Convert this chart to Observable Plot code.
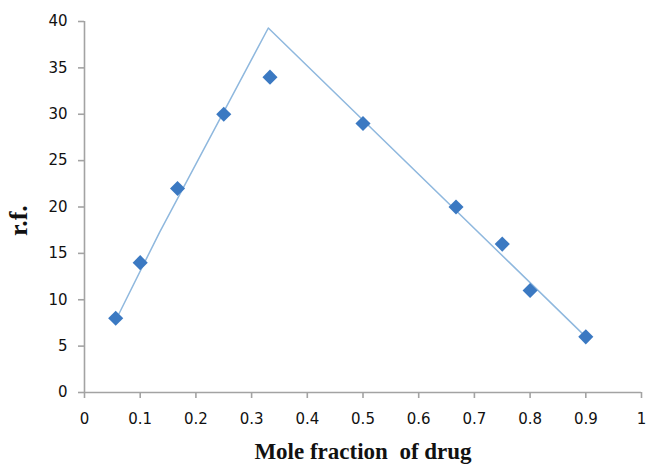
<!DOCTYPE html>
<html>
<head>
<meta charset="utf-8">
<script src="https://cdn.jsdelivr.net/npm/d3@7"></script>
<script src="https://cdn.jsdelivr.net/npm/@observablehq/plot@0.6"></script>
<style>
  html, body { margin: 0; padding: 0; background: #fff; }
  svg text { white-space: pre; }
</style>
</head>
<body>
<div id="chart"></div>
<script>
// Measured data points (mole fraction of drug vs r.f.)
const moleFraction = [0.056, 0.1, 0.167, 0.25, 0.333, 0.5, 0.667, 0.75, 0.8, 0.9];
const rf = [8, 14, 22, 30, 34, 29, 20, 16, 11, 6];

// Drawn straight lines (vertices)
const fitX = [0.057, 0.135, 0.33, 0.9];
const fitY = [7.9, 17.3, 39.3, 6];

// Axis ticks
const xTicks = [0, 0.1, 0.2, 0.3, 0.4, 0.5, 0.6, 0.7, 0.8, 0.9, 1];
const xTickLabels = ["0", "0.1", "0.2", "0.3", "0.4", "0.5", "0.6", "0.7", "0.8", "0.9", "1"];
const yTicks = [0, 5, 10, 15, 20, 25, 30, 35, 40];

const xLabel = "Mole fraction  of drug";
const yLabel = "r.f.";

const points = moleFraction.map((x, i) => ({x, y: rf[i]}));
const fit = fitX.map((x, i) => ({x, y: fitY[i]}));

const axisColor = "#a3a3a3";

const chart = Plot.plot({
  width: 648,
  height: 465,
  marginLeft: 84,
  marginRight: 7,
  marginTop: 21,
  marginBottom: 73,
  style: {fontFamily: "DejaVu Sans", fontSize: "15px", color: "#111", background: "#fff"},
  x: {domain: [0, 1]},
  y: {domain: [0, 40]},
  marks: [
    Plot.ruleY([0], {stroke: axisColor, strokeWidth: 1.6}),
    Plot.ruleX([0], {stroke: axisColor, strokeWidth: 1.6}),
    Plot.axisX({ticks: xTicks, tickFormat: (d, i) => xTickLabels[i], tickSize: 6, tickPadding: 15,
      stroke: axisColor, strokeWidth: 1.6, fill: "#111", label: null}),
    Plot.axisY({ticks: yTicks, tickSize: 6, tickPadding: 11,
      stroke: axisColor, strokeWidth: 1.6, fill: "#111", label: null}),
    Plot.line(fit, {x: "x", y: "y", stroke: "#8fb8de", strokeWidth: 1.5}),
    Plot.dot(points, {x: "x", y: "y", symbol: "diamond2", r: 6.8, fill: "#3b79c2", stroke: "none"}),
    Plot.text([xLabel], {frameAnchor: "bottom", dy: 66, fontFamily: "Liberation Serif",
      fontWeight: "bold", fontSize: 23, fill: "#111"}),
    Plot.text([yLabel], {frameAnchor: "left", rotate: -90, dx: -66, dy: 29, fontFamily: "Liberation Serif",
      fontWeight: "bold", fontSize: 26, fill: "#111"})
  ]
});

document.getElementById("chart").appendChild(chart);
</script>
</body>
</html>
